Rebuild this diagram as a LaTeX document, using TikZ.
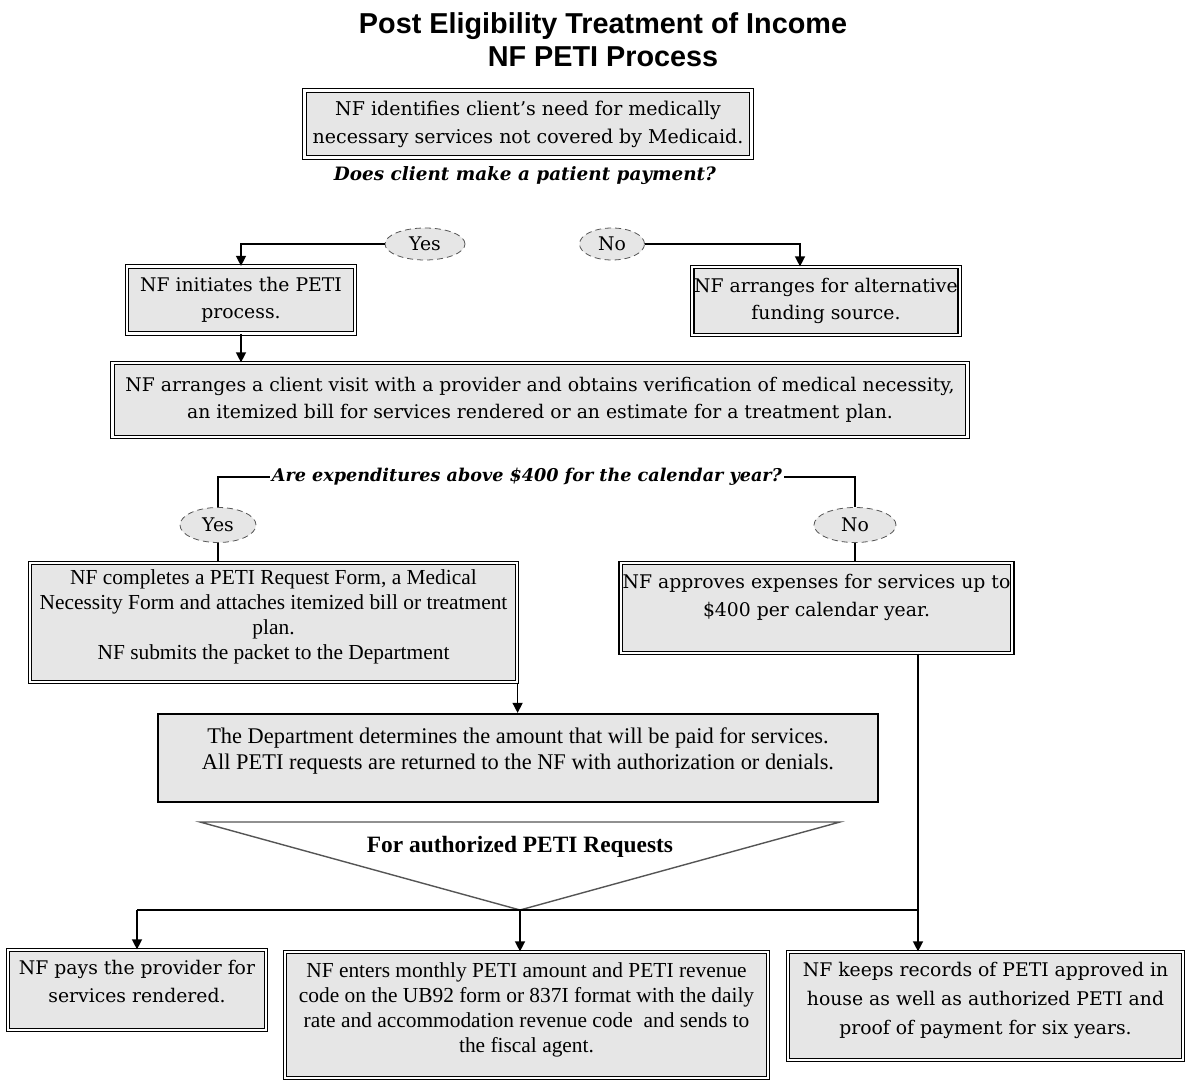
\documentclass[tikz,border=0pt]{standalone}
\usepackage{xcolor}
\usepackage{fontspec}
\setmainfont{DejaVu Serif}
\newfontfamily\timesFont{Liberation Serif}
\newfontfamily\titleFont{Liberation Sans}
\usepackage{tikz}
\usetikzlibrary{arrows.meta,shapes.geometric}
\definecolor{boxGray}{HTML}{E6E6E6}
\definecolor{edgeGray}{HTML}{555555}
\tikzset{
  procBox/.style={draw, line width=0.6pt, double=white, double distance=1.1pt, fill=boxGray, align=center, inner sep=1pt, font=\fontsize{9.4}{13.8}\selectfont},
  timesBox/.style={procBox, font=\timesFont\fontsize{10.7}{12.5}\selectfont},
  deptBox/.style={draw, line width=1.1pt, fill=boxGray, align=center, inner sep=1pt, font=\timesFont\fontsize{11.2}{13}\selectfont},
  choice/.style={ellipse, draw=edgeGray, densely dashed, fill=boxGray, inner sep=0pt, minimum height=16pt, font=\fontsize{9.4}{10}\selectfont},
  question/.style={inner sep=1pt, font=\bfseries\itshape\fontsize{8.8}{10}\selectfont},
  link/.style={line width=0.7pt},
  flowArrow/.style={link, -{Triangle[width=5pt,length=5pt]}}
}
\begin{document}
\begin{tikzpicture}[x=0.5pt,y=-0.5pt]
\useasboundingbox (0,0) rectangle (1185,1080);
\node[align=center, font=\titleFont\bfseries\fontsize{14.4}{16.5}\selectfont] (title) at (603,40) {Post Eligibility Treatment of Income\\NF PETI Process};
\node[procBox, minimum width=223.5pt, minimum height=33.5pt, font=\fontsize{9.5}{14}\selectfont] (need) at (528,124) {NF identifies client’s need for medically\\necessary services not covered by Medicaid.};
\node[question, font=\bfseries\itshape\fontsize{9.2}{10}\selectfont] (payQ) at (525,176) {Does client make a patient payment?};
\node[choice, minimum width=40pt] (yesA) at (425,244) {Yes};
\node[choice, minimum width=32.5pt] (noA) at (612,244) {No};
\node[procBox, minimum width=114pt, minimum height=33.5pt] (initiate) at (241,300) {NF initiates the PETI\\process.};
\node[procBox, minimum width=133.5pt, minimum height=34pt] (altFund) at (826,301) {NF arranges for alternative\\funding source.};
\node[procBox, minimum width=427.5pt, minimum height=37pt] (visit) at (540,400) {NF arranges a client visit with a provider and obtains verification of medical necessity,\\an itemized bill for services rendered or an estimate for a treatment plan.};
\node[question] (costQ) at (527,477) {Are expenditures above \$400 for the calendar year?};
\node[choice, minimum width=38pt, minimum height=17.5pt] (yesB) at (218,525) {Yes};
\node[choice, minimum width=41pt, minimum height=17.5pt] (noB) at (855,525) {No};
\node[timesBox, minimum width=243.5pt, minimum height=59.5pt, text depth=7.5pt] (complete) at (273.5,622.5) {NF completes a PETI Request Form, a Medical\\Necessity Form and attaches itemized bill or treatment\\plan.\\NF submits the packet to the Department};
\node[procBox, minimum width=195.5pt, minimum height=45pt, text depth=12.5pt] (approve) at (816.5,608) {NF approves expenses for services up to\\\$400 per calendar year.};
\node[deptBox, minimum width=360pt, minimum height=44pt, text depth=9.5pt] (dept) at (518,758) {The Department determines the amount that will be paid for services.\\All PETI requests are returned to the NF with authorization or denials.};
\coordinate (triLeft) at (200,822);
\coordinate (triRight) at (840,822);
\coordinate (apex) at (520,910);
\draw[edgeGray, line width=0.7pt, fill=white] (triLeft) -- (triRight) -- (apex) -- cycle;
\node[font=\timesFont\bfseries\fontsize{11.7}{13}\selectfont] (authorized) at (520,847) {For authorized PETI Requests};
\coordinate (rightDrop) at (918,910);
\node[procBox, minimum width=129pt, minimum height=40pt, text depth=8.5pt] (pay) at (137,990) {NF pays the provider for\\services rendered.};
\node[timesBox, minimum width=241.5pt, minimum height=63pt, text depth=7.5pt] (enter) at (526.5,1015) {NF enters monthly PETI amount and PETI revenue\\code on the UB92 form or 837I format with the daily\\rate and accommodation revenue code\ \ and sends to\\the fiscal agent.};
\node[procBox, minimum width=197.5pt, minimum height=54pt, text depth=7.5pt, font=\fontsize{9.4}{14.5}\selectfont] (keep) at (985.5,1006) {NF keeps records of PETI approved in\\house as well as authorized PETI and\\proof of payment for six years.};
\draw[flowArrow] (yesA.west) -| (initiate.north);
\draw[flowArrow] (noA.east) -| ([xshift=-13pt]altFund.north);
\draw[flowArrow] (initiate.south) -- (initiate.south |- visit.north);
\draw[link] (costQ.west) -| (yesB.north);
\draw[link] (costQ.east) -| (noB.north);
\draw[link] (yesB.south) -- (yesB.south |- complete.north);
\draw[link] (noB.south) -- (noB.south |- approve.north);
\draw[flowArrow] (complete.south east) -- (complete.south east |- dept.north);
\draw[link] (apex -| pay.north) -- (rightDrop);
\draw[flowArrow] (apex -| pay.north) -- (pay.north);
\draw[flowArrow] (apex) -- (apex |- enter.north);
\draw[flowArrow] (approve.south -| rightDrop) -- (rightDrop |- keep.north);
\end{tikzpicture}
\end{document}
